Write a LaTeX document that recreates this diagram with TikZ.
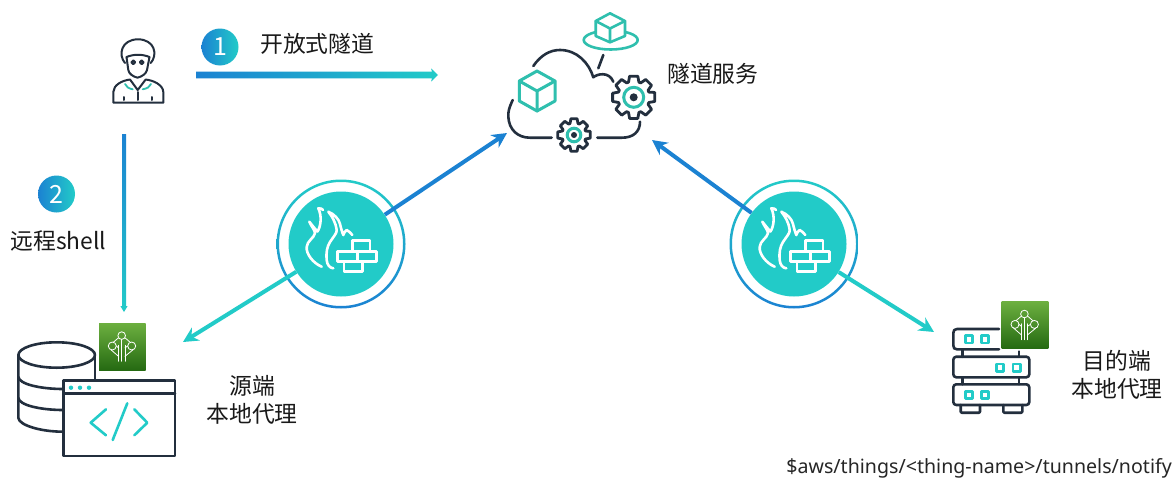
\documentclass[tikz,border=0pt]{standalone}
\usepackage{fontspec}
\setmainfont{Noto Sans CJK SC}
\newfontfamily\pathfont{Noto Sans}
\usetikzlibrary{arrows.meta,shapes.geometric}
\definecolor{navy}{HTML}{232F3E}
\definecolor{aqua}{HTML}{22CBC8}
\definecolor{sky}{HTML}{1B82D2}
\definecolor{mint}{HTML}{2FBFAE}
\definecolor{leafT}{HTML}{6CAF3F}
\definecolor{leafB}{HTML}{256A12}
\tikzset{
  x=1pt,y=-1pt,
  ink/.style={draw=navy,line width=2pt,line cap=round,line join=round,fill=none},
  inkb/.style={draw=navy,line width=2.6pt,line cap=round,line join=round,fill=none},
  mintl/.style={draw=mint,line width=2.6pt,line cap=round,line join=round},
  aqual/.style={draw=aqua,line width=2.4pt,line cap=round,line join=round},
  label/.style={font=\fontsize{22.8}{27.6}\selectfont,text=black!90,align=center,inner sep=0pt},
  stepdot/.style={circle,minimum size=37pt,inner sep=0pt,shading angle=60,left color=sky,right color=aqua,text=white,font=\fontsize{25}{25}\selectfont},
  fwdisc/.style={circle,fill=aqua,minimum size=105pt,inner sep=0pt},
  bluearrow/.style={draw=sky,line width=4pt,-{Stealth[length=15pt,width=15pt]}},
  aquaarrow/.style={draw=aqua,line width=4pt,-{Stealth[length=15pt,width=15pt]}},
  firewall/.pic={
    \begin{scope}[draw=white,line width=2.6pt,line cap=round,line join=round]
    \draw (-19.3,22.7) .. controls (-28,19) and (-35,10) .. (-34.3,3) .. controls (-34,-3) and (-27,-6) .. (-26,-10.7)
      .. controls (-26,-14) and (-30,-18) .. (-31.7,-22.3) .. controls (-29,-19) and (-26,-15) .. (-23.5,-12.5)
      .. controls (-20,-18) and (-19,-28) .. (-22.7,-35.7) .. controls (-20,-36) and (-19,-35) .. (-18,-34);
    \draw (-7.7,24.3) .. controls (-11,24) and (-14,21) .. (-14.3,16) .. controls (-15,8) and (-14,3) .. (-11,-2)
      .. controls (-7,-8) and (-4,-11) .. (-4.3,-14) .. controls (-5,-21) and (-9,-28) .. (-12.7,-32.3)
      .. controls (-7,-30) and (-2,-25) .. (-1,-20) .. controls (0,-16) and (1,-12) .. (2.3,-9)
      .. controls (3,-11) and (4,-13) .. (5.7,-14) .. controls (7.5,-13) and (10,-11) .. (11.3,-9);
    \draw (11.3,7.7) -- (11.3,-3.3) -- (29,-3.3) -- (29,7.7);
    \draw (-3.3,7.7) rectangle (35.7,17.7);
    \draw (16.3,7.7) -- (16.3,17.7);
    \draw (3,17.7) -- (3,27.7) -- (21.3,27.7) -- (21.3,17.7);
    \end{scope}
  },
  agent/.pic={
    \shade[top color=leafT,bottom color=leafB] (0,0) rectangle (46.7,46.7);
    \begin{scope}[draw=white,line width=.8pt,line cap=round]
    \draw (22.7,12.3) circle (3.8);
    \draw (13.3,22.7) circle (4);
    \draw (32.7,22.7) circle (4);
    \draw (19.5,14.5) -- (14.5,18.8);
    \draw (26,14.5) -- (31,18.8);
    \draw (12,26.5) -- (19.5,33);
    \draw (34,26.5) -- (26,33);
    \draw (22.7,16) -- (22.7,38);
    \draw (19.5,22) -- (19.5,38);
    \draw (26,22) -- (26,38);
    \draw (17.3,22.7) -- (19.5,24.5);
    \draw (28.7,22.7) -- (26,24.5);
    \end{scope}
  },
}
% gear: centre x, centre y, outer radius, root radius, ring radius, dot radius
\newcommand{\cog}[6]{%
  \begin{scope}[shift={(#1,#2)}]
  \draw[inkb,line width=2.8pt,fill=white] (-13:#3)
    \foreach \a in {0,45,...,315}{
      -- (\a-11:#3) -- (\a+11:#3) -- (\a+19:#4) -- (\a+26:#4)
    } -- cycle;
  \draw[mintl,line width=3pt] (0,0) circle (#5);
  \fill[navy] (0,0) circle (#6);
  \end{scope}}
\newcommand{\tealbox}[2]{\draw[aqual,line width=2.6pt,fill=white] (#1-3.6,#2-3.6) rectangle (#1+3.6,#2+3.6);}
\begin{document}
\begin{tikzpicture}
\useasboundingbox (0,0) rectangle (1174,479);
\fill[white] (0,0) rectangle (1174,479);

% ---- step badges and labels
\node[stepdot] (one) at (220,47) {1};
\node[stepdot] (two) at (56.5,194) {2};
\node[label,anchor=west] (t1) at (260,44) {开放式隧道};
\node[label,anchor=west] (t2) at (667,74) {隧道服务};
\node[label,anchor=west] (t3) at (10.5,241) {远程shell};
\node[label] (t4) at (252,400) {源端\\本地代理};
\node[label] (t5) at (1117,375) {目的端\\本地代理};
\node[anchor=east,inner sep=0pt,text=black!85,font=\pathfont\fontsize{19.6}{22}\selectfont] (t6) at (1172,468) {\$aws/things/<thing-name>/tunnels/notify};

% ---- user
\node[minimum width=52pt,minimum height=66pt,inner sep=0pt] (user) at (138,71) {};
\begin{scope}[ink]
\draw (125,63) .. controls (118,55) and (121,39.5) .. (138,39.3) .. controls (155,39.5) and (158,55) .. (150.7,63);
\draw (126.5,57) .. controls (134,54) and (142,54) .. (149.5,57);
\draw (126.5,57) -- (128.3,70) .. controls (129,74) and (133,76.5) .. (137.5,77.7) .. controls (142,76.5) and (146,74) .. (147,70) -- (149.5,57);
\draw (133.3,62.3) circle (1.9);
\draw (141.7,62.3) circle (1.9);
\draw (113.3,102.7) -- (113.3,92) .. controls (113.5,85) and (122,80.5) .. (130,79.5) -- (137.7,90) -- (145.7,79.5) .. controls (154,80.5) and (163,85) .. (163.3,92) -- (163.3,102.7) -- cycle;
\draw (137.7,92) -- (137.7,100);
\draw (124,97) -- (124,100);
\draw (151.7,97) -- (151.7,100);
\end{scope}
\draw[mint,line width=1.8pt,line cap=round] (125,84) .. controls (126,87) and (129,88.5) .. (132.7,89.3);
\draw[mint,line width=1.8pt,line cap=round] (151,84) .. controls (150,87) and (147,88.5) .. (142.7,89.3);

% ---- step arrows
\coordinate (a1s) at (196,75);
\coordinate (a1e) at (438,75);
\shade[left color=sky,right color=aqua] (a1s) ++(0,-3.3) -- ++(236,0) -- ++(-1,-3.4) -- (a1e) -- ++(-7,6.7) -- ++(1,-3.4) -- ++(-236,0) -- cycle;
\coordinate (a2s) at (124,134);
\coordinate (a2e) at (124,312);
\shade[top color=sky,bottom color=aqua] (a2s) ++(-2,0) -- ++(4,0) -- ++(0,172) -- ++(1.6,0) -- (a2e) -- ++(-3.6,-6) -- ++(1.6,0) -- cycle;

% ---- cloud service
\node[minimum width=150pt,minimum height=140pt,inner sep=0pt] (cloud) at (582,85) {};
\coordinate (cloudL) at (507,133);
\coordinate (cloudR) at (652,140);
\begin{scope}[inkb]
\draw (533.3,66) .. controls (541,55) and (550,50) .. (560,50) .. controls (577,50) and (589,63) .. (593.3,77.3) .. controls (597,74) and (609,71) .. (613.3,81.7);
\draw (512.7,100) .. controls (509,108) and (508,112) .. (508.3,116.7) .. controls (509,130) and (518,137.7) .. (530,137.7) -- (551.7,137.7);
\draw (597.3,137.7) -- (622,137.7) .. controls (633,137.7) and (640,132) .. (640,121.7);
\draw (603.3,55) -- (598.3,68.3);
\end{scope}
\cog{633.7}{97.3}{21.5}{16}{10}{4}
\cog{574}{135}{16.5}{12.2}{6.8}{3}
% big cube
\draw[mintl,line width=3pt,fill=white] (537,71) -- (555,81) -- (555,101) -- (537,111) -- (519.3,101) -- (519.3,81) -- cycle;
\draw[mintl,line width=3pt] (519.3,81) -- (537,91) -- (555,81) (537,91) -- (537,111);
% top cube
\draw[mintl] (610.7,40) ellipse [x radius=27,y radius=9.5];
\draw[mintl,fill=white] (610,13.3) -- (625,21) -- (625,36) -- (610,42.3) -- (595.7,36) -- (595.7,21) -- cycle;
\draw[mintl] (595.7,21) -- (610,28.5) -- (625,21) (610,28.5) -- (610,42.3);

% ---- firewalls
\shade[even odd rule,top color=aqua,bottom color=sky] (341,244) circle (64.5) (341,244) circle (62);
\shade[even odd rule,top color=aqua,bottom color=sky] (794,244) circle (64.5) (794,244) circle (62);
\node[fwdisc] (fwL) at (341,244) {};
\node[fwdisc] (fwR) at (794,244) {};
\pic at (fwL) {firewall};
\pic at (fwR) {firewall};

% ---- source agent
\node[minimum width=158pt,minimum height=115pt,inner sep=0pt] (src) at (97,397) {};
\coordinate (srcIn) at (183,342);
\begin{scope}[inkb]
\draw (56.7,355) ellipse [x radius=38.3,y radius=12.7];
\draw (18.4,355) -- (18.4,418) .. controls (19,425) and (40,431.7) .. (63.3,431.7);
\draw (18.4,377) .. controls (19,384) and (40,389) .. (63.3,389);
\draw (18.4,398) .. controls (19,405) and (40,410) .. (63.3,410);
\draw (95,355) -- (95,380.7);
\draw[fill=white] (63.3,380.7) rectangle (175,456);
\draw (63.3,393.5) -- (175,393.5);
\end{scope}
\fill[aqua] (71,387.7) circle (2.2) (80,387.7) circle (2.2) (89,387.7) circle (2.2);
\begin{scope}[aqual,line width=2.6pt]
\draw (106,409.3) -- (90.7,422.7) -- (106,435.3);
\draw (127.3,403.3) -- (112.7,440);
\draw (134.3,409.3) -- (147.3,422.7) -- (134.3,435.3);
\end{scope}
\pic at (99,323.3) {agent};

% ---- target agent
\node[minimum width=80pt,minimum height=85pt,inner sep=0pt] (dst) at (991,371) {};
\coordinate (dstIn) at (934,332);
\begin{scope}[inkb]
\draw (999,329) -- (957,329) .. controls (954.5,329) and (953.3,330.5) .. (953.3,333) -- (953.3,345.5) .. controls (953.3,348) and (954.5,349.3) .. (957,349.3) -- (999,349.3);
\draw[rounded corners=3pt] (953.3,356.7) rectangle (1029.3,377.3);
\draw[rounded corners=3pt] (953.3,384.3) rectangle (1029.3,405);
\draw (962.3,349.3) -- (962.3,356.7);
\draw (1019,351.5) -- (1019,356.7);
\draw (962.3,377.3) -- (962.3,384.3);
\draw (1019,377.3) -- (1019,384.3);
\draw[rounded corners=1pt] (960.7,405) -- (960.7,412.7) -- (980,412.7) -- (980,405);
\draw[rounded corners=1pt] (1003.3,405) -- (1003.3,412.7) -- (1022.3,412.7) -- (1022.3,405);
\end{scope}
\tealbox{969}{339.3}\tealbox{985}{339.3}
\tealbox{1000}{367.7}\tealbox{1016.7}{367.7}
\tealbox{969}{395}\tealbox{985}{395}
\pic at (1001.7,301.7) {agent};

% ---- connectors
\draw[bluearrow] (fwL) -- (cloudL);
\draw[aquaarrow] (fwL) -- (srcIn);
\draw[bluearrow] (fwR) -- (cloudR);
\draw[aquaarrow] (fwR) -- (dstIn);
\end{tikzpicture}
\end{document}
